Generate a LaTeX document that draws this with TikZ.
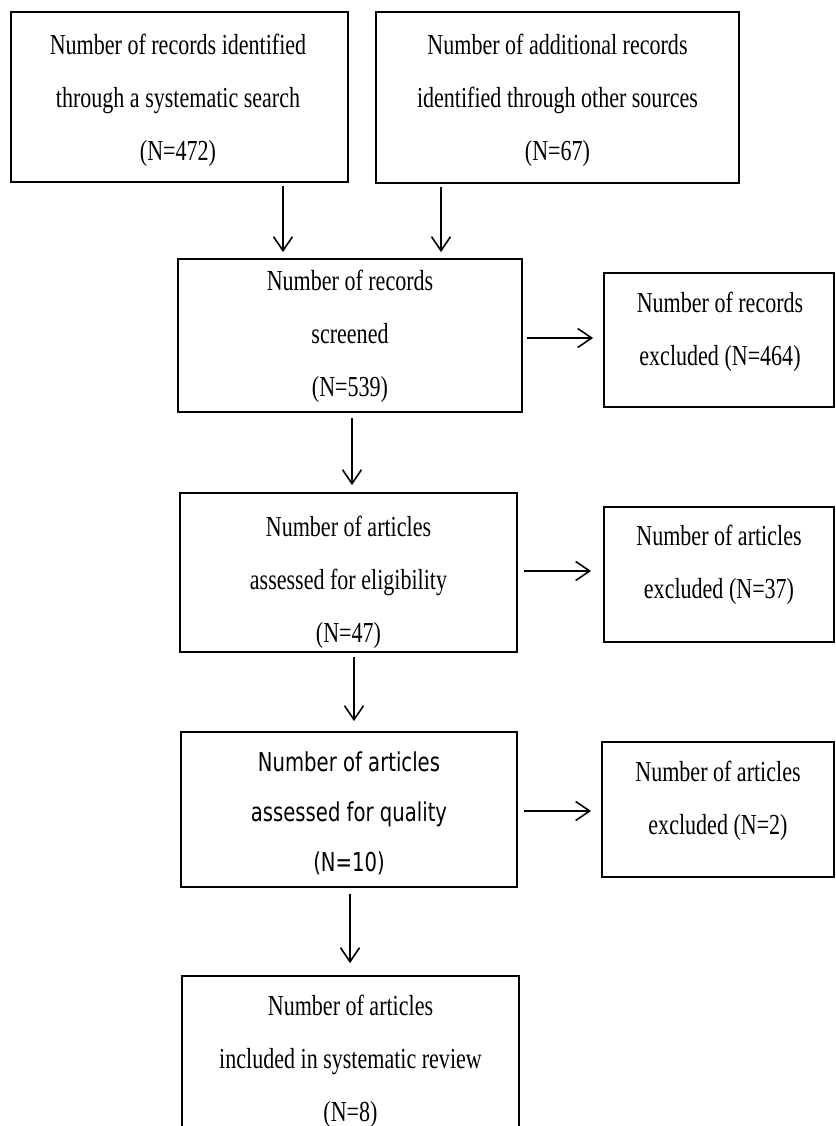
\documentclass[tikz,border=0pt]{standalone}
\usepackage{fontspec}
\setmainfont[FakeStretch=0.76]{Liberation Serif}
\newfontfamily\qualsans[FakeStretch=0.755]{DejaVu Sans}
\usetikzlibrary{arrows.meta}

\tikzset{
  box/.style={draw, line width=1.8pt, rectangle, inner sep=0pt},
  sidebox/.style={box, minimum width=230pt, minimum height=135pt},
  label text/.style={align=center, inner sep=0pt, font=\fontsize{29}{53}\selectfont},
  sans text/.style={label text, font=\qualsans\fontsize{26}{50}\selectfont},
  flow/.style={line width=1.6pt, -{Straight Barb[length=14pt, width=19pt]}},
}

\begin{document}
\begin{tikzpicture}[x=1pt, y=-1pt]
  \useasboundingbox (0,0) rectangle (835,1126);
  \clip (0,0) rectangle (835,1126);

  % identification
  \node[box, minimum width=337pt, minimum height=170pt] (b1) at (179.5,97) {};
  \node[label text] (t1) at (178,100)
    {Number of records identified\\through a systematic search\\(N=472)};
  \node[box, minimum width=363pt, minimum height=171pt] (b2) at (557.5,97.5) {};
  \node[label text] (t2) at (557.5,100)
    {Number of additional records\\identified through other sources\\(N=67)};

  % screening
  \node[box, minimum width=344pt, minimum height=153pt] (b3) at (350,335.5) {};
  \node[label text] (t3) at (350,336)
    {Number of records\\screened\\(N=539)};
  \node[sidebox, minimum height=134pt] (b4) at (719,340) {};
  \node[label text] (t4) at (720,332)
    {Number of records\\excluded (N=464)};

  % eligibility
  \node[box, minimum width=337pt, minimum height=159pt] (b5) at (348.5,572.5) {};
  \node[label text] (t5) at (348.5,582)
    {Number of articles\\assessed for eligibility\\(N=47)};
  \node[sidebox] (b6) at (719,574.5) {};
  \node[label text] (t6) at (719,565)
    {Number of articles\\excluded (N=37)};

  % quality
  \node[box, minimum width=336pt, minimum height=155pt] (b7) at (349,809.5) {};
  \node[sans text] (t7) at (349,813)
    {Number of articles\\assessed for quality\\(N=10)};
  \node[sidebox, minimum width=232pt] (b8) at (718,809.5) {};
  \node[label text] (t8) at (718,801)
    {Number of articles\\excluded (N=2)};

  % included
  \node[box, minimum width=337pt, minimum height=174pt] (b9) at (350.5,1063) {};
  \node[label text] (t9) at (350.5,1061)
    {Number of articles\\included in systematic review\\(N=8)};

  % connectors
  \draw[flow, shorten <=3pt, shorten >=6pt] (b1.south -| 283,0) -- (b3.north -| 283,0);
  \draw[flow, shorten <=3pt, shorten >=6pt] (b2.south -| 441,0) -- (b3.north -| 441,0);
  \draw[flow, shorten <=5pt, shorten >=7pt] (b3.south -| 352,0) -- (b5.north -| 352,0);
  \draw[flow, shorten <=4pt, shorten >=10pt] (b5.south -| 354,0) -- (b7.north -| 354,0);
  \draw[flow, shorten <=6pt, shorten >=12pt] (b7.south -| 350,0) -- (b9.north -| 350,0);
  \draw[flow, shorten <=4pt, shorten >=10pt] (b3.east |- 0,338) -- (b4.west |- 0,338);
  \draw[flow, shorten <=6pt, shorten >=12pt] (b5.east |- 0,571) -- (b6.west |- 0,571);
  \draw[flow, shorten <=6pt, shorten >=10pt] (b7.east |- 0,811) -- (b8.west |- 0,811);
\end{tikzpicture}
\end{document}
